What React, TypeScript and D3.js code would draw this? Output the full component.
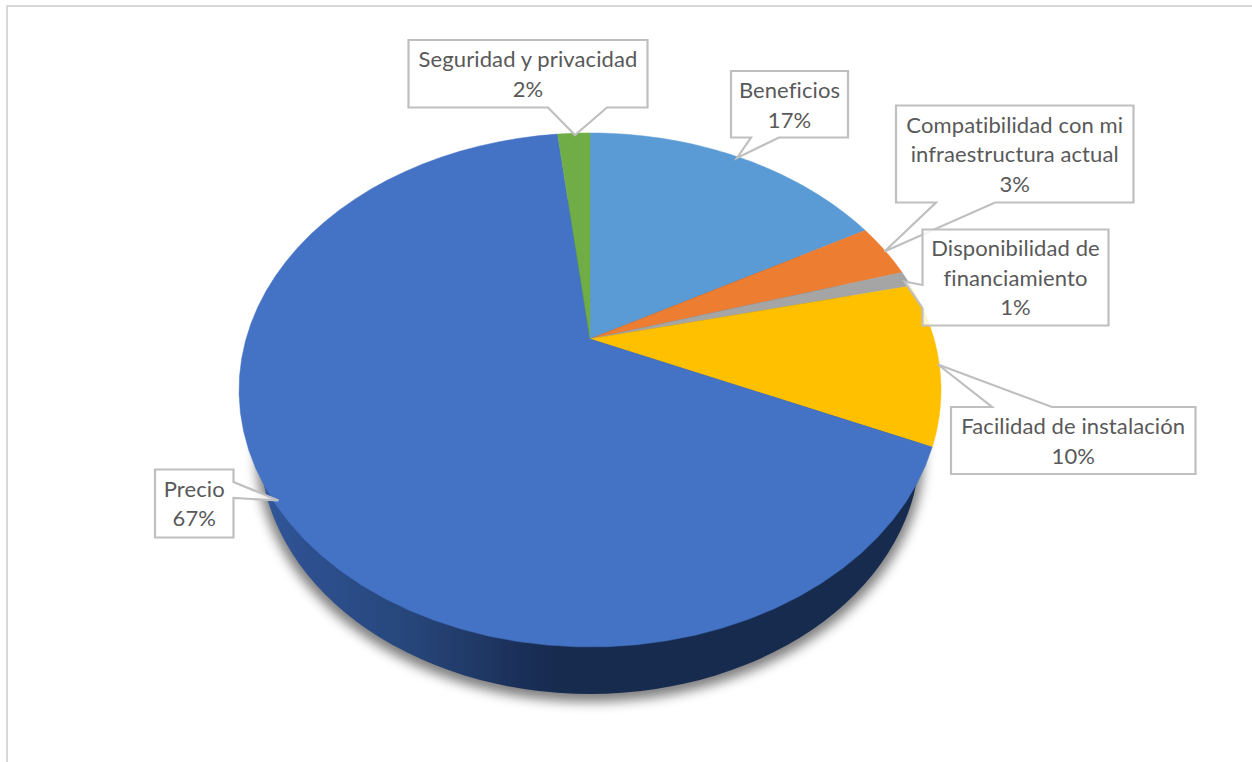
import React from "react";
import * as d3 from "d3";

// Share of respondents per purchase factor, clockwise from twelve o'clock.
const categories = [
  ["Beneficios"],
  ["Compatibilidad con mi", "infraestructura actual"],
  ["Disponibilidad de", "financiamiento"],
  ["Facilidad de instalación"],
  ["Precio"],
  ["Seguridad y privacidad"],
];
const shares = [0.17, 0.034, 0.01, 0.102, 0.666, 0.018];
const sliceColors = ["#5B9BD5", "#ED7D31", "#A5A5A5", "#FFC000", "#4472C4", "#70AD47"];

const W = 1252;
const H = 762;

// Perspective tilt of the pie disc: apex on screen, horizontal and vertical scale, foreshortening.
const APEX = { x: 590, y: 339 };
const TILT = { sx: 344, sy: 246.9, q: 0.1984 };
// Lower rim of the extruded disc.
const RIM = { cx: 590, cy: 447, rx: 330, ry: 247 };

// Callout geometry, one entry per category: box, pointer base, pointer tip, first baseline.
type Side = "top" | "bottom" | "left" | "right";
interface Callout {
  x0: number; x1: number; y0: number; y1: number;
  side: Side; b0: number; b1: number; tip: [number, number]; base: number;
}
const callouts: Callout[] = [
  { x0: 731, x1: 848, y0: 71, y1: 137.5, side: "bottom", b0: 751, b1: 779, tip: [737, 158], base: 98.3 },
  { x0: 896, x1: 1133.5, y0: 105.5, y1: 202.5, side: "bottom", b0: 936, b1: 995, tip: [884.5, 251.5], base: 132.7 },
  { x0: 922.5, x1: 1108.5, y0: 229.5, y1: 325.5, side: "left", b0: 285, b1: 308, tip: [904.5, 281.5], base: 256 },
  { x0: 951, x1: 1195.5, y0: 407, y1: 474, side: "top", b0: 992, b1: 1052, tip: [938, 364.5], base: 434 },
  { x0: 155, x1: 233.5, y0: 469.5, y1: 537.5, side: "right", b0: 482, b1: 498, tip: [278.5, 500.5], base: 496.7 },
  { x0: 408.5, x1: 647.5, y0: 40, y1: 107.5, side: "bottom", b0: 548, b1: 607, tip: [575, 135], base: 67.3 },
];
// Painting order keeps the financing box above the compatibility pointer.
const calloutOrder = [5, 0, 1, 3, 4, 2];

const percent = d3.format(".0%");
const LINE_GAP = 29.5;

// Projects an angle on the tilted disc (0 = top, clockwise) onto the screen.
function project(angle: number): [number, number] {
  const u = Math.sin(angle);
  const v = Math.cos(angle);
  const w = 1 + TILT.q * v;
  return [APEX.x + (TILT.sx * u) / w, APEX.y - (TILT.sy * v) / w];
}

function slicePath(start: number, end: number): string {
  const angles = d3.range(0, 61).map((i) => start + ((end - start) * i) / 60);
  const line = d3.line();
  return line([[APEX.x, APEX.y], ...angles.map(project)])! + "Z";
}

function calloutPath(c: Callout): string {
  const { x0, x1, y0, y1, b0, b1, tip } = c;
  const pts: [number, number][] = [[x0, y0]];
  if (c.side === "top") pts.push([b0, y0], tip, [b1, y0]);
  pts.push([x1, y0]);
  if (c.side === "right") pts.push([x1, b0], tip, [x1, b1]);
  pts.push([x1, y1]);
  if (c.side === "bottom") pts.push([b1, y1], tip, [b0, y1]);
  pts.push([x0, y1]);
  if (c.side === "left") pts.push([x0, b1], tip, [x0, b0]);
  return d3.line()(pts)! + "Z";
}

export default function App() {
  const arcs = d3.pie<number>().sort(null).startAngle(0).endAngle(2 * Math.PI)(shares);
  const wallStops: [number, string][] = [
    [0, "#31589B"],
    [0.06, "#2E5090"],
    [0.21, "#27487D"],
    [0.32, "#213A68"],
    [0.39, "#1B3059"],
    [0.45, "#172B4F"],
    [1, "#172B4F"],
  ];
  return (
    <svg
      width={W}
      height={H}
      viewBox={`0 0 ${W} ${H}`}
      style={{ position: "absolute", left: 0, top: 0, display: "block", background: "#fff" }}
    >
      <defs>
        <linearGradient id="wall" gradientUnits="userSpaceOnUse" x1={RIM.cx - RIM.rx} x2={RIM.cx + RIM.rx} y1={0} y2={0}>
          {wallStops.map(([o, c]) => (
            <stop key={o} offset={o} stopColor={c} />
          ))}
        </linearGradient>
        <filter id="soft" x="-10%" y="-10%" width="120%" height="120%">
          <feGaussianBlur stdDeviation="6" />
        </filter>
      </defs>

      {/* chart frame */}
      <path d={`M7 ${H}V6H${W}`} fill="none" stroke="#D9D9D9" strokeWidth={2} />

      {/* cast shadow, side wall */}
      <ellipse cx={RIM.cx} cy={RIM.cy + 6} rx={RIM.rx + 4} ry={RIM.ry + 2} fill="#000" opacity={0.5} filter="url(#soft)" />
      <ellipse cx={RIM.cx} cy={RIM.cy} rx={RIM.rx} ry={RIM.ry} fill="url(#wall)" />

      {/* top face */}
      {arcs.map((a, i) => (
        <path
          key={i}
          d={slicePath(a.startAngle, a.endAngle)}
          fill={sliceColors[i]}
          stroke={sliceColors[i]}
          strokeWidth={0.5}
        />
      ))}

      {/* data callouts */}
      {calloutOrder.map((i) => {
        const c = callouts[i];
        const lines = [...categories[i], percent(shares[i])];
        const cx = (c.x0 + c.x1) / 2;
        return (
          <g key={i}>
            <path d={calloutPath(c)} fill="#fff" fillOpacity={0.82} stroke="#BFBFBF" strokeWidth={2.2} />
            {lines.map((t, j) => (
              <text
                key={j}
                x={cx}
                y={c.base + j * LINE_GAP}
                textAnchor="middle"
                fontFamily="Lato, 'Open Sans', sans-serif"
                fontSize={22}
                letterSpacing={0.1}
                fill="#595959"
                style={{ fontVariantLigatures: "none" }}
              >
                {t}
              </text>
            ))}
          </g>
        );
      })}
    </svg>
  );
}
